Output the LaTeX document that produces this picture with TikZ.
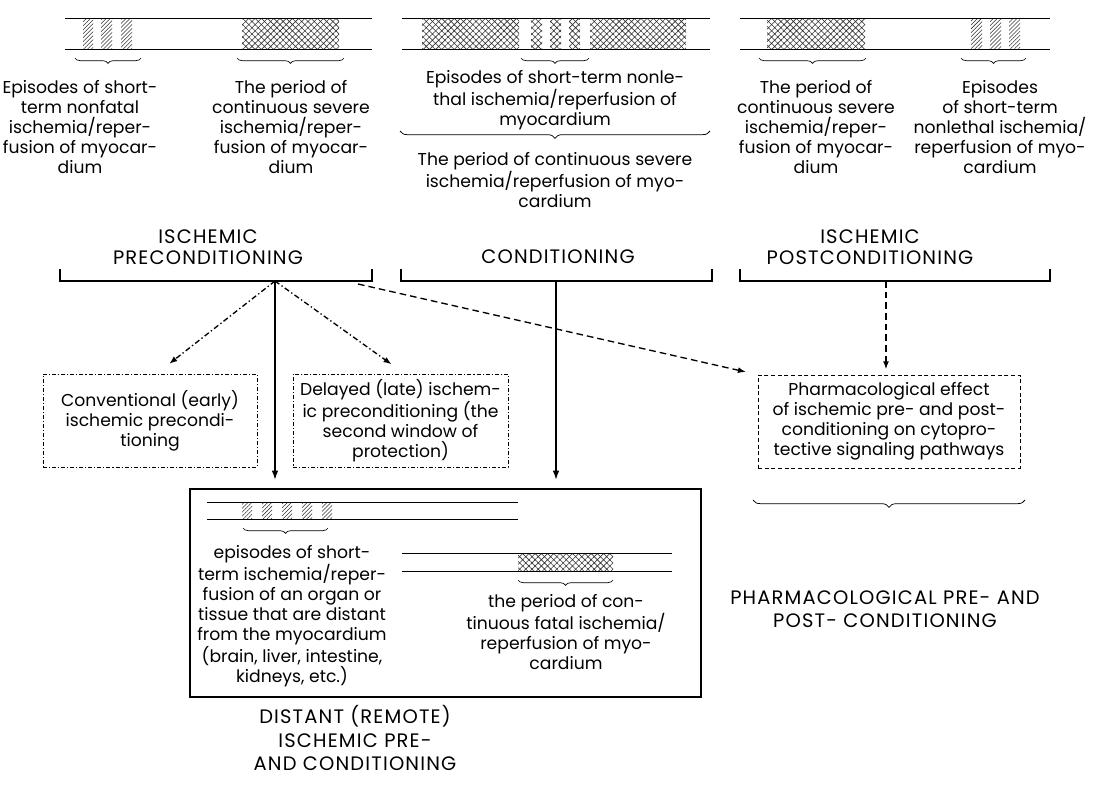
\documentclass[tikz,border=0pt]{standalone}
\usepackage{fontspec}
\setmainfont{Poppins}
\newfontfamily\capsfam{Poppins}[LetterSpace=6]
\usetikzlibrary{patterns,patterns.meta,decorations.pathreplacing,arrows.meta,calc}
\begin{document}
\begin{tikzpicture}[x=0.75pt,y=-0.75pt,
  txt/.style={font=\fontsize{12.9}{15}\selectfont, align=center, inner sep=0pt},
  lbl/.style={font=\capsfam\fontsize{14.6}{15.8}\selectfont, align=center, inner sep=0pt},
  biglbl/.style={font=\capsfam\fontsize{14.6}{17.3}\selectfont, align=center, inner sep=0pt},
  stripline/.style={line width=0.6pt},
  hatchbar/.style={pattern={Lines[angle=45,distance=2.1pt,line width=0.4pt]}, pattern color=black!80},
  crossbar/.style={pattern={Hatch[angle=45,distance=3.3pt,line width=0.45pt]}, pattern color=black!80},
  brc/.style={decorate, decoration={brace, mirror, amplitude=4pt}, line width=0.5pt},
  bigbrc/.style={decorate, decoration={brace, mirror, amplitude=5.5pt}, line width=0.55pt},
  bracket/.style={line width=1.3pt},
  solidarrow/.style={line width=1.3pt, -{Latex[length=7pt,width=5pt]}},
  dasharrow/.style={line width=1pt, dash pattern=on 5pt off 3pt, -{Latex[length=6pt,width=4.5pt]}},
  dotarrow/.style={line width=1pt, dash pattern=on 4pt off 2pt on 1pt off 2pt, -{Latex[length=6pt,width=4.5pt]}},
  ddbox/.style={draw, line width=0.6pt, dash pattern=on 3pt off 1.5pt on 0.8pt off 1.5pt, align=center, inner sep=0pt,
    font=\fontsize{12.9}{15}\selectfont},
  dbox/.style={draw, line width=0.6pt, dash pattern=on 3pt off 2pt, align=center, inner sep=0pt,
    font=\fontsize{12.9}{15}\selectfont},
  remotebox/.style={draw, line width=1.5pt, inner sep=0pt}
]
\useasboundingbox (0,0) rectangle (1096,790);

% ---------- top strip 1 (preconditioning) ----------
\fill[hatchbar] (83,18) rectangle (93,49);
\fill[hatchbar] (101,18) rectangle (112,49);
\fill[hatchbar] (121,18) rectangle (132,49);
\fill[crossbar] (242,18) rectangle (339,49);
\draw[stripline] (65,18) -- (372,18) (65,49) -- (372,49);
\draw[brc] (75,58) -- (141,58);
\draw[brc] (237,58) -- (344,58);

% ---------- top strip 2 (conditioning) ----------
\fill[crossbar] (422,18) rectangle (519,49);
\fill[crossbar] (531,18) rectangle (542,49);
\fill[crossbar] (550,18) rectangle (561,49);
\fill[crossbar] (569,18) rectangle (580,49);
\fill[crossbar] (590,18) rectangle (686,49);
\draw[stripline] (402,18) -- (710,18) (402,49) -- (710,49);
\draw[brc] (521,58) -- (589,58);

% ---------- top strip 3 (postconditioning) ----------
\fill[crossbar] (767,18) rectangle (865,49);
\fill[hatchbar] (971,18) rectangle (982,49);
\fill[hatchbar] (990,18) rectangle (1001,49);
\fill[hatchbar] (1009,18) rectangle (1020,49);
\draw[stripline] (740,18) -- (1050,18) (740,49) -- (1050,49);
\draw[brc] (759,58) -- (866,58);
\draw[brc] (961,58) -- (1026,58);

% ---------- top texts ----------
\node[txt] (t1) at (80,127) {Episodes of short-\\term nonfatal\\ischemia/reper-\\fusion of myocar-\\dium};
\node[txt] (t2) at (291,127) {The period of\\continuous severe\\ischemia/reper-\\fusion of myocar-\\dium};
\node[txt] (t3) at (555,100) {Episodes of short-term nonle-\\thal ischemia/reperfusion of\\myocardium};
\draw[bigbrc] (400,131) -- (710,131);
\node[txt] (t4) at (555,180) {The period of continuous severe\\ischemia/reperfusion of myo-\\cardium};
\node[txt] (t5) at (816,127) {The period of\\continuous severe\\ischemia/reper-\\fusion of myocar-\\dium};
\node[txt] (t6) at (1000,127) {Episodes\\of short-term\\nonlethal ischemia/\\reperfusion of myo-\\cardium};

% ---------- group labels and brackets ----------
\node[lbl] (preLbl) at (208,247) {ISCHEMIC\\PRECONDITIONING};
\node[lbl] (condLbl) at (558,257) {CONDITIONING};
\node[lbl] (postLbl) at (870,247) {ISCHEMIC\\POSTCONDITIONING};

\draw[bracket] (60,269) -- (60,281) -- (372,281) -- (372,269);
\draw[bracket] (401,269) -- (401,281) -- (712,281) -- (712,269);
\draw[bracket] (740,269) -- (740,281) -- (1050,281) -- (1050,269);
\coordinate (preStem) at (275,281);
\coordinate (preDash) at (358,284);
\coordinate (condStem) at (556,281);
\coordinate (postStem) at (886,281);

% ---------- boxes ----------
\node[ddbox, minimum width=160.5pt, minimum height=69.75pt] (box1) at (150,420.5)
  {Conventional (early)\\ischemic precondi-\\tioning};
\node[ddbox, minimum width=161.25pt, minimum height=69.75pt] (box2) at (400.5,420.5)
  {Delayed (late) ischem-\\ic preconditioning (the\\second window of\\protection)};
\node[dbox, minimum width=196.5pt, minimum height=69.75pt] (box3) at (889,421.5)
  {Pharmacological effect\\of ischemic pre- and post-\\conditioning on cytopro-\\tective signaling pathways};
\node[remotebox, minimum width=383.25pt, minimum height=156pt] (remote) at (445.5,593) {};

% ---------- connectors ----------
\draw[solidarrow, shorten >=6pt] (preStem) -- (preStem |- remote.north);
\draw[solidarrow, shorten >=6pt] (condStem) -- (condStem |- remote.north);
\draw[dotarrow, shorten >=12pt] (preStem) -- ([xshift=5pt]box1.north);
\draw[dotarrow, shorten >=12pt] (preStem) -- ([xshift=3pt]box2.north);
\draw[dasharrow, shorten >=9pt] (preDash) -- (box3.north west);
\draw[dasharrow, shorten >=4pt] (postStem) -- (postStem |- box3.north);

% ---------- pharmacological brace + label ----------
\draw[bigbrc] (753,500) -- (1025,500);
\node[biglbl] (pharmLbl) at (885,609) {PHARMACOLOGICAL PRE- AND\\POST- CONDITIONING};

% ---------- inside remote box ----------
\foreach \xx in {242,262,282,302,322}{
  \fill[hatchbar] (\xx,502) rectangle ++(10,17);
}
\draw[stripline] (207,502) -- (518,502) (207,519) -- (518,519);
\draw[brc] (243,528) -- (328,528);
\node[txt] (remTxt1) at (292,616) {episodes of short-\\term ischemia/reper-\\fusion of an organ or\\tissue that are distant\\from the myocardium\\(brain, liver, intestine,\\kidneys, etc.)};

\fill[crossbar] (518,553) rectangle (613,571);
\draw[stripline] (402,553) -- (672,553) (402,571) -- (672,571);
\draw[brc] (518,580) -- (613,580);
\node[txt] (remTxt2) at (566,632) {the period of con-\\tinuous fatal ischemia/\\reperfusion of myo-\\cardium};

\node[biglbl] (remLbl) at (355,738) {DISTANT (REMOTE)\\ISCHEMIC PRE-\\AND CONDITIONING};
\end{tikzpicture}
\end{document}
